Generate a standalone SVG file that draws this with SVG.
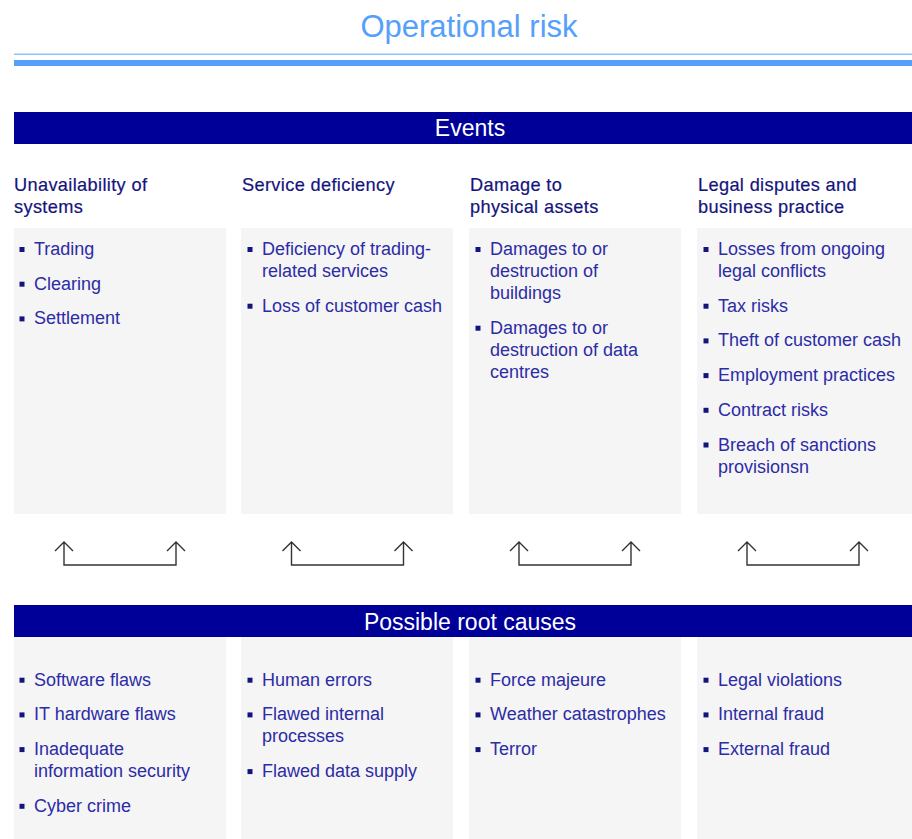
<svg xmlns="http://www.w3.org/2000/svg" width="912" height="839" viewBox="0 0 912 839">
<style>
.t{font-family:"Liberation Sans",Arial,sans-serif}
.title{font-size:31px;fill:#55a0fa}
.bar{fill:#000099}
.bartxt{font-size:23px;fill:#ffffff;text-anchor:middle}
.h{font-size:18.2px;fill:#14147d;stroke:#14147d;stroke-width:0.2;letter-spacing:0.35px}
.b{font-size:18px;fill:#2c2ca6}
.box{fill:#f5f5f5}
.sq{fill:#14147d}
.arr{fill:none;stroke:#333333;stroke-width:1.4}
</style>
<defs>
<rect id="sq" class="sq" width="5" height="5"/>
<path id="arrows" class="arr" d="M50,542 V565 H162 V542 M41,551 L50,542 L59,551 M153,551 L162,542 L171,551"/>
</defs>
<rect width="912" height="839" fill="#ffffff"/>
<g id="header">
<text class="t title" x="469" y="37" text-anchor="middle">Operational risk</text>
<rect x="14" y="53.5" width="898" height="1.5" fill="#8ec2ff"/>
<rect x="14" y="60" width="898" height="6" fill="#55a0fa"/>
</g>
<g id="events-bar">
<rect class="bar" x="14" y="112" width="898" height="32"/>
<text class="t bartxt" x="470" y="136">Events</text>
</g>
<g id="event-unavailability">
<text class="t h" x="14" y="191">Unavailability of</text>
<text class="t h" x="14" y="213">systems</text>
<rect class="box" x="14" y="228" width="212" height="286"/>
<use href="#sq" x="19.5" y="247"/><text class="t b" x="34" y="255">Trading</text>
<use href="#sq" x="19.5" y="281.7"/><text class="t b" x="34" y="289.7">Clearing</text>
<use href="#sq" x="19.5" y="316.4"/><text class="t b" x="34" y="324.4">Settlement</text>
</g>
<g id="event-service">
<text class="t h" x="242" y="191">Service deficiency</text>
<rect class="box" x="241" y="228" width="212" height="286"/>
<use href="#sq" x="247.5" y="247"/><text class="t b" x="262" y="255">Deficiency of trading-</text>
<text class="t b" x="262" y="277">related services</text>
<use href="#sq" x="247.5" y="303.7"/><text class="t b" x="262" y="311.7">Loss of customer cash</text>
</g>
<g id="event-damage">
<text class="t h" x="470" y="191">Damage to</text>
<text class="t h" x="470" y="213">physical assets</text>
<rect class="box" x="469" y="228" width="212" height="286"/>
<use href="#sq" x="475.5" y="247"/><text class="t b" x="490" y="255">Damages to or</text>
<text class="t b" x="490" y="277">destruction of</text>
<text class="t b" x="490" y="299">buildings</text>
<use href="#sq" x="475.5" y="325.7"/><text class="t b" x="490" y="333.7">Damages to or</text>
<text class="t b" x="490" y="355.7">destruction of data</text>
<text class="t b" x="490" y="377.7">centres</text>
</g>
<g id="event-legal">
<text class="t h" x="698" y="191">Legal disputes and</text>
<text class="t h" x="698" y="213">business practice</text>
<rect class="box" x="697" y="228" width="215" height="286"/>
<use href="#sq" x="703.5" y="247"/><text class="t b" x="718" y="255">Losses from ongoing</text>
<text class="t b" x="718" y="277">legal conflicts</text>
<use href="#sq" x="703.5" y="303.7"/><text class="t b" x="718" y="311.7">Tax risks</text>
<use href="#sq" x="703.5" y="338.4"/><text class="t b" x="718" y="346.4">Theft of customer cash</text>
<use href="#sq" x="703.5" y="373.1"/><text class="t b" x="718" y="381.1">Employment practices</text>
<use href="#sq" x="703.5" y="407.8"/><text class="t b" x="718" y="415.8">Contract risks</text>
<use href="#sq" x="703.5" y="442.5"/><text class="t b" x="718" y="450.5">Breach of sanctions</text>
<text class="t b" x="718" y="472.5">provisionsn</text>
</g>
<g id="connectors">
<use href="#arrows" x="14"/>
<use href="#arrows" x="241.5"/>
<use href="#arrows" x="469"/>
<use href="#arrows" x="697"/>
</g>
<g id="causes-bar">
<rect class="bar" x="14" y="605" width="898" height="32"/>
<text class="t bartxt" x="470" y="630">Possible root causes</text>
</g>
<g id="cause-it">
<rect class="box" x="14" y="637" width="212" height="202"/>
<use href="#sq" x="19.5" y="677.7"/><text class="t b" x="34" y="685.7">Software flaws</text>
<use href="#sq" x="19.5" y="712.4"/><text class="t b" x="34" y="720.4">IT hardware flaws</text>
<use href="#sq" x="19.5" y="747.1"/><text class="t b" x="34" y="755.1">Inadequate</text>
<text class="t b" x="34" y="777.1">information security</text>
<use href="#sq" x="19.5" y="803.8"/><text class="t b" x="34" y="811.8">Cyber crime</text>
</g>
<g id="cause-human">
<rect class="box" x="241" y="637" width="212" height="202"/>
<use href="#sq" x="247.5" y="677.7"/><text class="t b" x="262" y="685.7">Human errors</text>
<use href="#sq" x="247.5" y="712.4"/><text class="t b" x="262" y="720.4">Flawed internal</text>
<text class="t b" x="262" y="742.4">processes</text>
<use href="#sq" x="247.5" y="769.1"/><text class="t b" x="262" y="777.1">Flawed data supply</text>
</g>
<g id="cause-external">
<rect class="box" x="469" y="637" width="212" height="202"/>
<use href="#sq" x="475.5" y="677.7"/><text class="t b" x="490" y="685.7">Force majeure</text>
<use href="#sq" x="475.5" y="712.4"/><text class="t b" x="490" y="720.4">Weather catastrophes</text>
<use href="#sq" x="475.5" y="747.1"/><text class="t b" x="490" y="755.1">Terror</text>
</g>
<g id="cause-legal">
<rect class="box" x="697" y="637" width="215" height="202"/>
<use href="#sq" x="703.5" y="677.7"/><text class="t b" x="718" y="685.7">Legal violations</text>
<use href="#sq" x="703.5" y="712.4"/><text class="t b" x="718" y="720.4">Internal fraud</text>
<use href="#sq" x="703.5" y="747.1"/><text class="t b" x="718" y="755.1">External fraud</text>
</g>
</svg>
